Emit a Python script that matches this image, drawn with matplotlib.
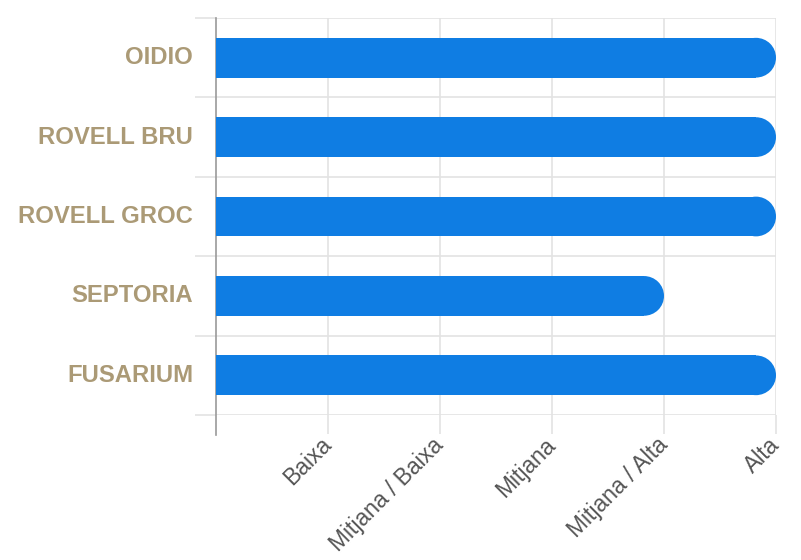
import matplotlib
matplotlib.use("Agg")
import matplotlib.pyplot as plt
import matplotlib.transforms as mtrans
from matplotlib.patches import Ellipse
import numpy as np

# data
categories = ["OIDIO", "ROVELL BRU", "ROVELL GROC", "SEPTORIA", "FUSARIUM"]
values = [5, 5, 5, 4, 5]
level_ticks = [1, 2, 3, 4, 5]
level_labels = ["Baixa", "Mitjana / Baixa", "Mitjana", "Mitjana / Alta", "Alta"]

bar_color = "#0f7de3"
label_color = "#ab9a76"
grid_color = "#e3e3e3"

plt.rcParams["font.family"] = ["Liberation Sans", "DejaVu Sans"]

W, H = 801, 560
fig = plt.figure(figsize=(W / 100, H / 100), dpi=100)
left, right, top, bottom = 216, 776, 18, 415
ax = fig.add_axes([left / W, 1 - bottom / H, (right - left) / W, (bottom - top) / H])

n = len(categories)
ys = np.arange(n)
ax.set_xlim(0, 5)
ax.set_ylim(n - 0.5, -0.5)

# bar with round right end: rectangle + half ellipse cap
px_per_x = (right - left) / 5.0
bar_h = 0.5
rx = 20 / px_per_x
ax.barh(ys, np.array(values) - rx, height=bar_h, color=bar_color, lw=0, zorder=3)
for y, v in zip(ys, values):
    ax.add_patch(Ellipse((v - rx, y), 2 * rx, bar_h, color=bar_color, lw=0, zorder=3))

# y axis: category labels + boundary lines
ax.set_yticks(ys)
ax.set_yticklabels(categories, fontsize=17.2, fontweight="bold", color=label_color)
ax.tick_params(axis="y", which="major", length=0, pad=16.5)
shift = mtrans.ScaledTranslation(0, 2.5 / 100, fig.dpi_scale_trans)
for lab in ax.get_yticklabels():
    lab.set_transform(lab.get_transform() + shift)
ax.set_yticks(np.arange(-0.5, n), minor=True)
ax.tick_params(axis="y", which="minor", length=15, color=grid_color, width=1.2)
ax.grid(True, axis="y", which="minor", color=grid_color, lw=1.2, zorder=0)

# x axis
ax.set_xticks(level_ticks)
ax.set_xticklabels(level_labels, fontsize=16.5, color="#555555")
ax.tick_params(axis="x", which="major", length=14, color=grid_color, width=1.2, pad=5)
ax.grid(True, axis="x", which="major", color=grid_color, lw=1.2, zorder=0)
for lab in ax.get_xticklabels():
    lab.set_rotation(45)
    lab.set_rotation_mode("anchor")
    lab.set_ha("right")
    lab.set_va("center")

for s in ["top", "right", "bottom"]:
    ax.spines[s].set_visible(False)
ax.spines["left"].set_color("#9a9a9a")
ax.spines["left"].set_linewidth(1.2)
ax.spines["left"].set_bounds(-0.5, n - 0.5 + 20 / ((bottom - top) / n))

fig.savefig("out.png", dpi=100)
